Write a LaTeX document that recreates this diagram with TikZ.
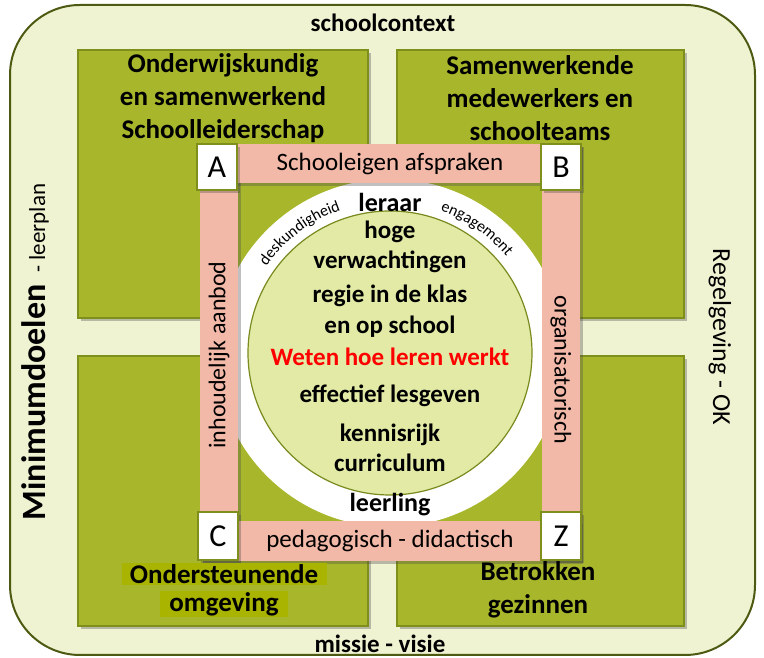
\documentclass[tikz,border=0pt]{standalone}
\usepackage{fontspec}
\setmainfont{Carlito}
\usetikzlibrary{positioning,shadows,decorations.text}

\definecolor{creme}{HTML}{F0F3D2}
\definecolor{donkerrand}{HTML}{4D5A12}
\definecolor{groen}{HTML}{A7B62A}
\definecolor{groenrand}{HTML}{7F8F1B}
\definecolor{lichtgroen}{HTML}{E2EAA5}
\definecolor{cirkelrand}{HTML}{7A8A1E}
\definecolor{roze}{HTML}{F2B8A8}
\definecolor{markeer}{HTML}{A8B400}

\newcommand{\fs}[1]{\fontsize{#1}{1.22\dimexpr#1pt\relax}\selectfont}

\begin{document}
\begin{tikzpicture}[x=1pt, y=1pt,
  schaduw/.style={drop shadow={shadow xshift=3pt, shadow yshift=-3pt, opacity=0.35, fill=black!70}},
  vlak/.style={rectangle, draw=groenrand, fill=groen, line width=1.2pt, minimum width=290pt,
               minimum height=268pt, schaduw},
  balk/.style={rectangle, fill=roze, inner sep=0pt, schaduw},
  hoek/.style={rectangle, draw=groenrand, fill=white, line width=1.2pt, minimum width=40pt,
               minimum height=46pt, inner sep=0pt, font=\fs{32}, schaduw},
  kop/.style={align=center, font=\fs{27}\bfseries},
  tekst/.style={align=center, font=\fs{25}\bfseries},
  rand/.style={font=\fs{25}}]
\useasboundingbox (0,0) rectangle (764,658);

% schoolcontext
\node[rectangle, rounded corners=70pt, draw=donkerrand, fill=creme, line width=2pt,
      minimum width=745pt, minimum height=650pt] (context) at (382.5,328) {};

% vier vlakken
\node[vlak] (lb) at (223,474) {};
\node[vlak, minimum width=287pt] (rb) at (540.5,474) {};
\node[vlak, minimum height=270pt] (lo) at (223,167) {};
\node[vlak, minimum width=287pt, minimum height=270pt] (ro) at (540.5,167) {};

% kern
\node[circle, fill=white, minimum size=348pt, inner sep=0pt] (wit) at (390,305) {};
\node[circle, draw=cirkelrand, fill=lichtgroen, line width=1.2pt, minimum size=284pt,
      inner sep=0pt] (kern) at (390,305) {};

% kader
\node[balk, minimum width=38pt, minimum height=415pt] (links) at (219,305.5) {};
\node[balk, minimum width=38pt, minimum height=415pt] (rechts) at (561,305.5) {};
\node[balk, minimum width=380pt, minimum height=39pt] (boven) at (390,494) {};
\node[balk, minimum width=380pt, minimum height=40pt] (onder) at (390,117) {};

\node[hoek] (A) at (217,491) {A};
\node[hoek] (B) at (561,491) {B};
\node[hoek, minimum height=48pt] (C) at (218,122) {C};
\node[hoek, minimum height=48pt] (Z) at (561,122) {Z};

% teksten kader
\node[font=\fs{25}] (afspraken) at (boven) {Schooleigen afspraken};
\node[font=\fs{25}] (didactisch) at (onder) {pedagogisch - didactisch};
\node[font=\fs{24}, rotate=90] (aanbod) at (219,303) {inhoudelijk aanbod};
\node[font=\fs{24}, rotate=-90] (organisatorisch) at (561,288) {organisatorisch};

% rand
\node[font=\fs{25}\bfseries] (school) at (383,635) {schoolcontext};
\node[font=\fs{25}\bfseries] (missie) at (380,14) {missie - visie};
\node[rotate=90] (minimum) at (35,306)
  {{\fs{34}\bfseries Minimumdoelen}\hspace{12pt}{\fs{23}- leerplan}};
\node[rand, font=\fs{26}, rotate=-90] (regels) at (720,321) {Regelgeving - OK};

% vlakken
\node[kop] (leiding) at (223,560) {Onderwijskundig\\en samenwerkend\\Schoolleiderschap};
\node[kop] (teams) at (540,560) {Samenwerkende\\medewerkers en\\schoolteams};
\node[kop, fill=markeer, inner sep=1pt, minimum width=205pt] (steun1) at (224,84) {Ondersteunende};
\node[kop, fill=markeer, inner sep=1pt, minimum width=128pt] (steun2) at (224,54) {omgeving};
\node[kop] (gezin) at (538,68) {Betrokken\\gezinnen};

% cirkel
\node[font=\fs{26}\bfseries] (leraar) at (390,456) {leraar};
\node[font=\fs{26}\bfseries] (leerling) at (390,153) {leerling};
\path[decorate, decoration={text along path, text align=center,
      text={|\fs{16}|deskundigheid}}]
  (390,305) ++(167:151) arc[start angle=167, end angle=87, radius=151];
\path[decorate, decoration={text along path, text align=center,
      text={|\fs{16}|engagement}}]
  (390,305) ++(91:151) arc[start angle=91, end angle=19, radius=151];

\node[tekst] (hoog) at (390,411) {hoge\\verwachtingen};
\node[tekst] (regie) at (390,347) {regie in de klas\\en op school};
\node[tekst, text=red] (weten) at (390,301) {Weten hoe leren werkt};
\node[tekst] (lesgeven) at (390,262) {effectief lesgeven};
\node[tekst] (curriculum) at (390,210) {kennisrijk\\curriculum};
\end{tikzpicture}
\end{document}
